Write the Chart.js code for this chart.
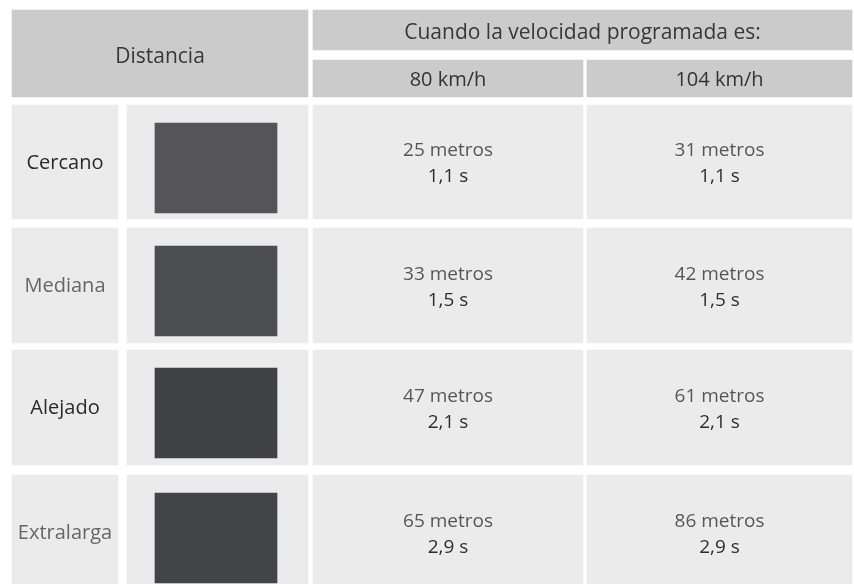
<!DOCTYPE html>
<html>
<head>
<meta charset="utf-8">
<script src="https://cdn.jsdelivr.net/npm/chart.js@4/dist/chart.umd.min.js"></script>
<style>
  html, body { margin: 0; padding: 0; background: #fff; }
  #wrap { width: 854px; height: 584px; position: relative; }
</style>
</head>
<body>
<div id="wrap"><canvas id="tabla"></canvas></div>
<script>
// data
const encabezado = 'Distancia';
const titulo = 'Cuando la velocidad programada es:';
const velocidades = ['80 km/h', '104 km/h'];
const distancias = ['Cercano', 'Mediana', 'Alejado', 'Extralarga'];
const metros80 = [25, 33, 47, 65];
const metros104 = [31, 42, 61, 86];
const segundos = [1.1, 1.5, 2.1, 2.9];

// styles / layout
const swatchColors = ['#555458', '#4b4d51', '#3f4145', '#434447'];
const labelColors = ['#2a2a2a', '#666666', '#2a2a2a', '#666666'];
const headerBg = '#cbcbcb';
const cellBg = '#ebebeb';
const cols = [[12, 118], [127, 308], [313, 583], [587, 852]];
const rows = [[105, 219], [228, 343], [350, 465], [475, 590]];
const headTop = [10, 50];
const headSub = [60, 97];
const FONT = '"Open Sans", "Noto Sans", sans-serif';

const mid = (a) => (a[0] + a[1]) / 2;
const w = (a) => a[1] - a[0];
const fmt = (n) => n.toFixed(1).replace('.', ',') + ' s';

const cell = (c, r) => ({ x: mid(c), y: [r[0], r[1]] });

const valueLines = (m, i) => [
  { t: m + ' metros', c: '#575757', dy: -11, s: 19 },
  { t: fmt(segundos[i]), c: '#2e2e2e', dy: 15, s: 19 }
];

// first dataset is painted last (on top)
const datasets = [
  {
    label: 'colores',
    data: rows.map(r => ({ x: 216, y: [r[0] + 18, r[0] + 108] })),
    barThickness: 122,
    backgroundColor: swatchColors,
    texts: []
  },
  {
    label: 'distancia',
    data: [cell([cols[0][0], cols[1][1]], [headTop[0], headSub[1]])],
    barThickness: w([cols[0][0], cols[1][1]]),
    backgroundColor: headerBg,
    texts: [[{ t: encabezado, c: '#383838', dy: 4, s: 21 }]]
  },
  {
    label: 'titulo',
    data: [cell([cols[2][0], cols[3][1]], headTop)],
    barThickness: w([cols[2][0], cols[3][1]]),
    backgroundColor: headerBg,
    texts: [[{ t: titulo, c: '#383838', dy: 3, s: 21 }]]
  },
  {
    label: 'nombres',
    data: rows.map(r => cell(cols[0], r)),
    barThickness: w(cols[0]),
    backgroundColor: cellBg,
    texts: distancias.map((d, i) => [{ t: d, c: labelColors[i], dy: 1, s: 20 }])
  },
  {
    label: 'muestras',
    data: rows.map(r => cell(cols[1], r)),
    barThickness: w(cols[1]),
    backgroundColor: cellBg,
    texts: []
  },
  {
    label: velocidades[0],
    data: [cell(cols[2], headSub)].concat(rows.map(r => cell(cols[2], r))),
    barThickness: w(cols[2]),
    backgroundColor: [headerBg].concat(rows.map(() => cellBg)),
    texts: [[{ t: velocidades[0], c: '#333', dy: 2, s: 20 }]].concat(metros80.map(valueLines))
  },
  {
    label: velocidades[1],
    data: [cell(cols[3], headSub)].concat(rows.map(r => cell(cols[3], r))),
    barThickness: w(cols[3]),
    backgroundColor: [headerBg].concat(rows.map(() => cellBg)),
    texts: [[{ t: velocidades[1], c: '#333', dy: 2, s: 20 }]].concat(metros104.map(valueLines))
  }
];

datasets.forEach(ds => {
  ds.grouped = false;
  ds.borderWidth = 0;
  ds.clip = false;
});

const cellText = {
  id: 'cellText',
  afterDatasetsDraw(chart) {
    const ctx = chart.ctx;
    ctx.save();
    ctx.textAlign = 'center';
    ctx.textBaseline = 'middle';
    chart.data.datasets.forEach((ds, i) => {
      const meta = chart.getDatasetMeta(i);
      meta.data.forEach((el, j) => {
        const lines = ds.texts[j];
        if (!lines) return;
        const cy = (el.y + el.base) / 2;
        lines.forEach(l => {
          ctx.font = l.s + 'px ' + FONT;
          ctx.fillStyle = l.c;
          ctx.fillText(l.t, el.x, cy + l.dy);
        });
      });
    });
    ctx.restore();
  }
};

new Chart(document.getElementById('tabla'), {
  type: 'bar',
  data: { datasets },
  options: {
    responsive: true,
    maintainAspectRatio: false,
    animation: false,
    layout: { padding: 0 },
    plugins: { legend: { display: false }, tooltip: { enabled: false } },
    scales: {
      x: { type: 'linear', min: 0, max: 854, display: false, offset: false },
      y: { type: 'linear', min: 0, max: 584, reverse: true, display: false }
    }
  },
  plugins: [cellText]
});
</script>
</body>
</html>
